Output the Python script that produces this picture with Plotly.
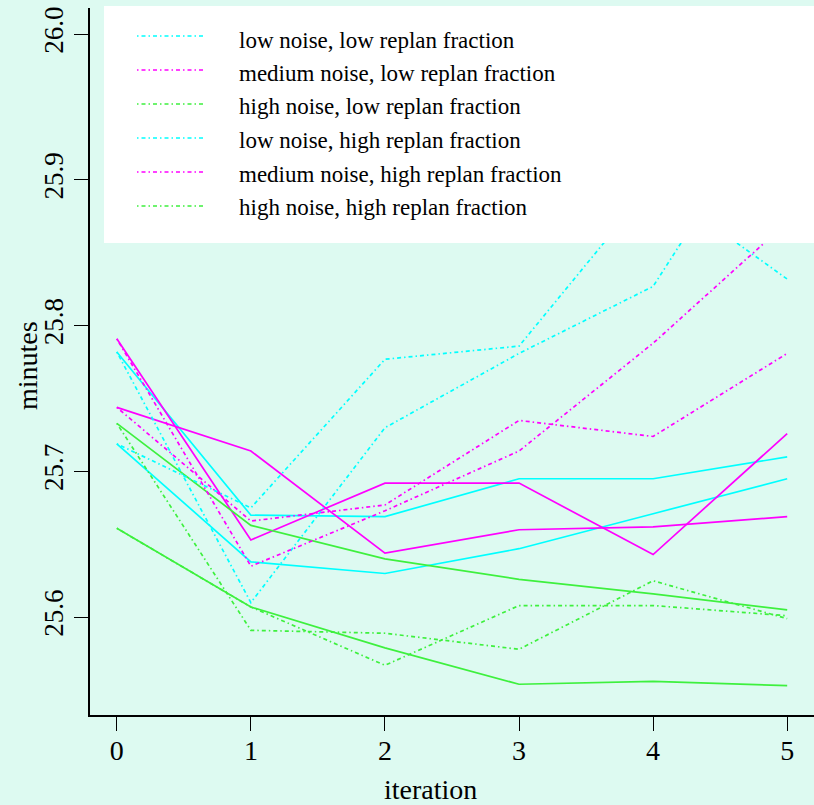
import plotly.graph_objects as go

# ---------------- data ----------------
iterations = [0, 1, 2, 3, 4, 5]

cyan_a_solid = [25.782, 25.670, 25.669, 25.695, 25.695, 25.710]
cyan_a_dash = [25.782, 25.610, 25.730, 25.781, 25.827, 25.970]
cyan_b_solid = [25.719, 25.638, 25.630, 25.647, 25.671, 25.695]
cyan_b_dash = [25.719, 25.675, 25.777, 25.786, 25.898, 25.832]

magenta_a_solid = [25.791, 25.653, 25.692, 25.692, 25.643, 25.726]
magenta_a_dash = [25.791, 25.635, 25.673, 25.714, 25.788, 25.871]
magenta_b_solid = [25.744, 25.714, 25.644, 25.660, 25.662, 25.669]
magenta_b_dash = [25.744, 25.666, 25.677, 25.735, 25.724, 25.781]

green_a_solid = [25.733, 25.663, 25.640, 25.626, 25.616, 25.605]
green_a_dash = [25.733, 25.591, 25.589, 25.578, 25.625, 25.599]
green_b_solid = [25.661, 25.607, 25.579, 25.554, 25.556, 25.553]
green_b_dash = [25.661, 25.607, 25.567, 25.608, 25.608, 25.601]

legend_labels = [
    "low noise, low replan fraction",
    "medium noise, low replan fraction",
    "high noise, low replan fraction",
    "low noise, high replan fraction",
    "medium noise, high replan fraction",
    "high noise, high replan fraction",
]

y_ticks = [25.6, 25.7, 25.8, 25.9, 26.0]
y_tick_text = ["25.6", "25.7", "25.8", "25.9", "26.0"]

# ---------------- style ----------------
CYAN = "#00ffff"
MAGENTA = "#ff00ff"
GREEN = "#3ef03e"
BG = "#ddfaf1"
DOTDASH = "1.5px,3px,4px,3px"
FONT = "Liberation Serif, Times New Roman, serif"

series = [
    (cyan_a_solid, CYAN, "solid"),
    (cyan_b_solid, CYAN, "solid"),
    (magenta_a_solid, MAGENTA, "solid"),
    (magenta_b_solid, MAGENTA, "solid"),
    (green_a_solid, GREEN, "solid"),
    (green_b_solid, GREEN, "solid"),
    (cyan_a_dash, CYAN, DOTDASH),
    (cyan_b_dash, CYAN, DOTDASH),
    (magenta_a_dash, MAGENTA, DOTDASH),
    (magenta_b_dash, MAGENTA, DOTDASH),
    (green_a_dash, GREEN, DOTDASH),
    (green_b_dash, GREEN, DOTDASH),
]

fig = go.Figure()
for vals, col, dash in series:
    fig.add_trace(go.Scatter(
        x=iterations, y=vals, mode="lines",
        line=dict(color=col, width=1.7, dash=dash),
        showlegend=False, hoverinfo="skip",
    ))

W, H = 814, 805
ML, MR, MT, MB = 90, 0, 8, 90
PW, PH = W - ML - MR, H - MT - MB


def px_x(p):
    return (p - ML) / PW


def px_y(p):
    return (H - MB - p) / PH


shapes = [
    dict(type="rect", xref="paper", yref="paper",
         x0=px_x(104), x1=1.0, y0=px_y(243), y1=px_y(6),
         fillcolor="white", line=dict(width=0), layer="above"),
]
annotations = []
legend_colors = [CYAN, MAGENTA, GREEN, CYAN, MAGENTA, GREEN]
legend_line_y = [36, 70, 104, 138, 172, 206]
legend_text_y = [40, 73.5, 107, 140.5, 174, 207.5]
for lab, col, ly, ty in zip(legend_labels, legend_colors, legend_line_y, legend_text_y):
    shapes.append(dict(type="line", xref="paper", yref="paper",
                       x0=px_x(137), x1=px_x(206), y0=px_y(ly), y1=px_y(ly),
                       line=dict(color=col, width=1.3, dash=DOTDASH), layer="above"))
    annotations.append(dict(xref="paper", yref="paper", x=px_x(237), y=px_y(ty),
                            text=lab, showarrow=False, xanchor="left", yanchor="middle",
                            font=dict(family=FONT, size=23, color="black")))

annotations.append(dict(xref="paper", yref="paper", x=px_x(430), y=px_y(789),
                        text="iteration", showarrow=False, xanchor="center", yanchor="middle",
                        font=dict(family=FONT, size=28, color="black")))
annotations.append(dict(xref="paper", yref="paper", x=px_x(28), y=px_y(366),
                        text="minutes", showarrow=False, xanchor="center", yanchor="middle",
                        textangle=-90,
                        font=dict(family=FONT, size=28, color="black")))

fig.update_layout(
    width=W, height=H,
    margin=dict(l=ML, r=MR, t=MT, b=MB, pad=0),
    paper_bgcolor=BG, plot_bgcolor=BG,
    shapes=shapes, annotations=annotations,
    showlegend=False,
    font=dict(family=FONT, color="black"),
)
fig.update_xaxes(
    range=[-0.2, 5.2], tickvals=iterations, ticktext=[str(i) for i in iterations],
    showgrid=False, zeroline=False, showline=True, linecolor="black", linewidth=2,
    ticks="outside", ticklen=14, tickwidth=1.3, tickcolor="black",
    tickfont=dict(family=FONT, size=28, color="black"),
    ticklabelstandoff=-5,
)
fig.update_yaxes(
    range=[25.5329, 26.018], tickvals=y_ticks, ticktext=y_tick_text, tickangle=-90,
    showgrid=False, zeroline=False, showline=True, linecolor="black", linewidth=1.5,
    ticks="outside", ticklen=14, tickwidth=1.3, tickcolor="black",
    tickfont=dict(family=FONT, size=27, color="black"),
)

fig.write_html("out.html")
